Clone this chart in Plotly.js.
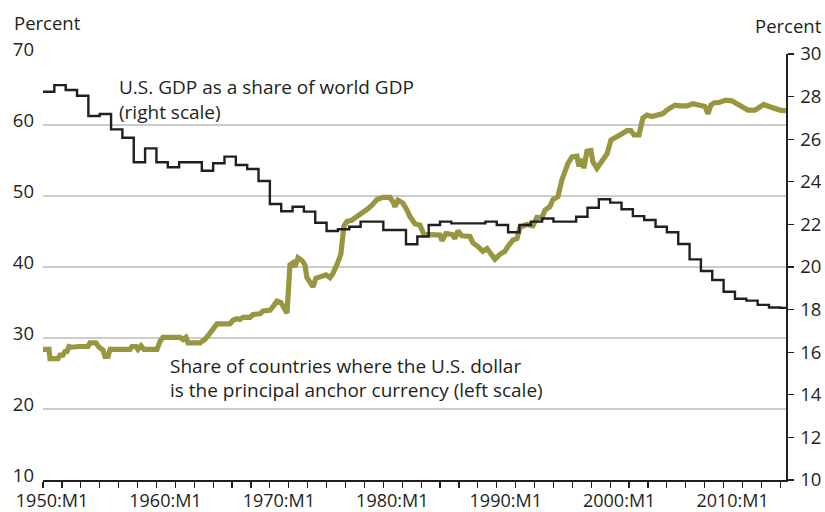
<!DOCTYPE html>
<html>
<head>
<meta charset="utf-8">
<script src="https://cdn.plot.ly/plotly-3.0.1.min.js"></script>
<style>
  html, body { margin: 0; padding: 0; background: #ffffff; }
  #chart { width: 825px; height: 512px; }
</style>
</head>
<body>
<div id="chart"></div>
<script>
// ---- Data ----
// U.S. GDP as a share of world GDP (right scale), annual
var gdpYears = [1950,1951,1952,1953,1954,1955,1956,1957,1958,1959,
                1960,1961,1962,1963,1964,1965,1966,1967,1968,1969,
                1970,1971,1972,1973,1974,1975,1976,1977,1978,1979,
                1980,1981,1982,1983,1984,1985,1986,1987,1988,1989,
                1990,1991,1992,1993,1994,1995,1996,1997,1998,1999,
                2000,2001,2002,2003,2004,2005,2006,2007,2008,2009,
                2010,2011,2012,2013,2014,2015];
var gdpShare = [28.23,28.54,28.31,28.04,27.09,27.18,26.46,26.07,24.92,25.57,
                24.92,24.68,24.92,24.92,24.52,24.87,25.18,24.79,24.60,24.04,
                22.96,22.62,22.83,22.60,22.08,21.69,21.77,21.89,22.13,22.13,
                21.74,21.74,21.07,21.43,21.97,22.13,22.05,22.05,22.05,22.13,
                21.97,21.63,21.97,22.13,22.28,22.13,22.13,22.36,22.78,23.18,
                23.02,22.71,22.39,22.21,21.89,21.63,21.08,20.36,19.81,19.39,
                18.84,18.51,18.42,18.22,18.10,18.08];

// Share of countries where the U.S. dollar is the principal anchor currency (left scale)
var anchorDates = [1950.00,1950.53,1950.62,1951.32,1951.50,1951.76,1951.94,1952.12,1952.29,1952.56,
                   1953.09,1953.97,1954.14,1954.67,1954.94,1955.29,1955.46,1955.73,1955.91,1957.67,
                   1957.85,1958.20,1958.37,1958.64,1958.90,1960.05,1960.31,1960.58,1962.08,1962.34,
                   1962.60,1962.78,1963.84,1964.28,1964.72,1965.07,1965.34,1966.48,1966.75,1967.10,
                   1967.36,1967.63,1968.25,1968.51,1969.13,1969.39,1970.01,1970.36,1970.63,1970.98,
                   1971.24,1971.51,1971.77,1972.04,1972.21,1972.48,1972.83,1973.09,1973.27,1973.53,
                   1973.80,1974.06,1974.41,1974.94,1975.30,1975.56,1975.91,1976.26,1976.53,1976.79,
                   1977.23,1977.68,1978.12,1978.56,1979.00,1979.44,1979.97,1980.59,1980.85,1981.03,
                   1981.29,1981.73,1982.09,1982.35,1982.79,1983.23,1983.58,1984.11,1984.99,1985.17,
                   1985.52,1986.05,1986.32,1986.58,1986.93,1987.64,1987.90,1988.34,1988.78,1989.14,
                   1989.58,1989.84,1990.28,1990.72,1990.99,1991.43,1991.78,1992.05,1992.66,1993.19,
                   1993.54,1993.98,1994.25,1994.69,1994.95,1995.39,1995.75,1996.01,1996.28,1996.63,
                   1997.07,1997.24,1997.51,1997.68,1997.95,1998.30,1998.48,1998.83,1999.27,1999.71,
                   2000.07,2000.51,2000.86,2001.48,2001.83,2002.10,2002.54,2002.89,2003.24,2003.68,
                   2004.12,2004.65,2005.00,2005.71,2006.15,2006.77,2007.29,2007.91,2008.35,2008.62,
                   2008.88,2009.14,2009.67,2010.20,2010.73,2011.17,2011.70,2012.14,2012.76,2013.20,
                   2013.55,2013.82,2014.35,2014.96,2015.49];
var anchorShare = [28.4,28.4,27.1,27.1,27.6,27.6,28.1,28.1,28.8,28.7,
                   28.8,28.8,29.3,29.3,28.7,28.3,27.4,27.4,28.4,28.4,
                   28.8,28.8,28.4,28.9,28.4,28.4,29.5,30.1,30.1,29.8,
                   30.1,29.3,29.3,29.8,30.7,31.5,32.0,32.0,32.5,32.7,
                   32.6,32.9,32.9,33.3,33.4,33.8,33.9,34.6,35.2,35.0,
                   34.3,33.5,40.3,40.6,40.0,41.3,40.9,40.3,38.5,37.9,
                   37.2,38.4,38.6,38.9,38.5,39.1,40.3,41.8,45.8,46.4,
                   46.6,47.1,47.5,48.1,48.7,49.5,49.8,49.8,49.2,48.5,
                   49.4,49.0,48.0,47.1,46.1,45.9,44.6,44.5,44.5,43.7,
                   44.7,44.6,44.0,45.1,44.4,44.3,43.4,42.9,42.2,42.6,
                   41.6,41.1,41.8,42.2,42.9,43.8,44.0,45.6,46.0,45.8,
                   47.0,46.9,48.0,48.5,49.5,49.9,52.3,53.5,54.6,55.5,
                   55.6,54.2,55.2,53.9,56.3,56.4,54.8,53.9,55.0,55.9,
                   57.9,58.2,58.6,59.2,59.2,58.6,58.6,61.0,61.4,61.2,
                   61.4,61.6,62.1,62.8,62.7,62.7,63.0,62.7,62.6,61.6,
                   62.8,63.1,63.2,63.5,63.4,63.0,62.4,62.1,62.1,62.6,
                   62.9,62.7,62.4,62.1,62.0];

// Tick labels
var xTickVals = [1950,1960,1970,1980,1990,2000,2010];
var xTickText = ["1950:M1","1960:M1","1970:M1","1980:M1","1990:M1","2000:M1","2010:M1"];
var xStart = 1950, xEnd = 2015.5;

// ---- Build traces ----
var gdpX = gdpYears.slice(); gdpX.push(xEnd);
var gdpY = gdpShare.slice(); gdpY.push(gdpShare[gdpShare.length - 1]);

var textColor = "#231f20";
var fontFam = "Open Sans, Noto Sans, sans-serif";
var tickSize = 18.5, xTickSize = 18, noteSize = 19;

var traces = [
  {
    x: anchorDates, y: anchorShare, type: "scatter", mode: "lines",
    yaxis: "y", line: {color: "#999641", width: 5.2, shape: "linear"},
    hoverinfo: "skip", showlegend: false
  },
  {
    x: gdpX, y: gdpY, type: "scatter", mode: "lines",
    yaxis: "y2", line: {color: "#231f20", width: 2.4, shape: "hv"},
    hoverinfo: "skip", showlegend: false
  }
];

var layout = {
  width: 825, height: 512,
  margin: {l: 43, r: 39, t: 54, b: 32, pad: 0},
  paper_bgcolor: "#ffffff", plot_bgcolor: "#ffffff",
  font: {family: fontFam, size: tickSize, color: textColor},
  showlegend: false,
  xaxis: {
    range: [xStart, xEnd], type: "linear",
    tickmode: "array", tickvals: xTickVals, ticktext: xTickText,
    ticks: "outside", ticklen: 6, tickwidth: 1.2, tickcolor: "#231f20",
    ticklabelshift: 9, ticklabelstandoff: -2,
    minor: {tickmode: "linear", tick0: 1950, dtick: 20/12, ticks: "outside", ticklen: 6, tickwidth: 1.2, tickcolor: "#231f20", showgrid: false},
    showline: true, linecolor: "#231f20", linewidth: 1.5,
    showgrid: false, zeroline: false,
    tickfont: {family: fontFam, size: xTickSize, color: textColor},
    fixedrange: true
  },
  yaxis: {
    range: [10, 70], tickmode: "linear", tick0: 10, dtick: 10,
    ticks: "", showline: false, zeroline: false,
    showgrid: true, gridcolor: "#cccccc", gridwidth: 1.5,
    ticklabelstandoff: 8, ticklabelshift: -4,
    tickfont: {family: fontFam, size: tickSize, color: textColor},
    fixedrange: true
  },
  yaxis2: {
    range: [10, 30], tickmode: "linear", tick0: 10, dtick: 2,
    overlaying: "y", side: "right",
    ticks: "outside", ticklen: 6, tickwidth: 1.2, tickcolor: "#231f20",
    showline: true, linecolor: "#231f20", linewidth: 1.5,
    showgrid: false, zeroline: false,
    ticklabelstandoff: 3,
    tickfont: {family: fontFam, size: tickSize, color: textColor},
    fixedrange: true
  },
  annotations: [
    {xref: "paper", yref: "paper", x: -0.042, y: 1.075, xanchor: "left", yanchor: "middle",
     text: "Percent", showarrow: false, font: {family: fontFam, size: tickSize, color: textColor}},
    {xref: "paper", yref: "paper", x: 1.0505, y: 1.068, xanchor: "right", yanchor: "middle",
     text: "Percent", showarrow: false, font: {family: fontFam, size: tickSize, color: textColor}},
    {xref: "paper", yref: "paper", x: 0.0995, y: 0.9225, xanchor: "left", yanchor: "middle",
     text: "U.S. GDP as a share of world GDP", showarrow: false, font: {family: fontFam, size: noteSize, color: textColor}},
    {xref: "paper", yref: "paper", x: 0.0995, y: 0.8638, xanchor: "left", yanchor: "middle",
     text: "(right scale)", showarrow: false, font: {family: fontFam, size: noteSize, color: textColor}},
    {xref: "paper", yref: "paper", x: 0.1683, y: 0.2676, xanchor: "left", yanchor: "middle",
     text: "Share of countries where the U.S. dollar", showarrow: false, font: {family: fontFam, size: noteSize, color: textColor}},
    {xref: "paper", yref: "paper", x: 0.1683, y: 0.2113, xanchor: "left", yanchor: "middle",
     text: "is the principal anchor currency (left scale)", showarrow: false, font: {family: fontFam, size: noteSize, color: textColor}}
  ]
};

Plotly.newPlot("chart", traces, layout, {displayModeBar: false, staticPlot: true});
</script>
</body>
</html>
